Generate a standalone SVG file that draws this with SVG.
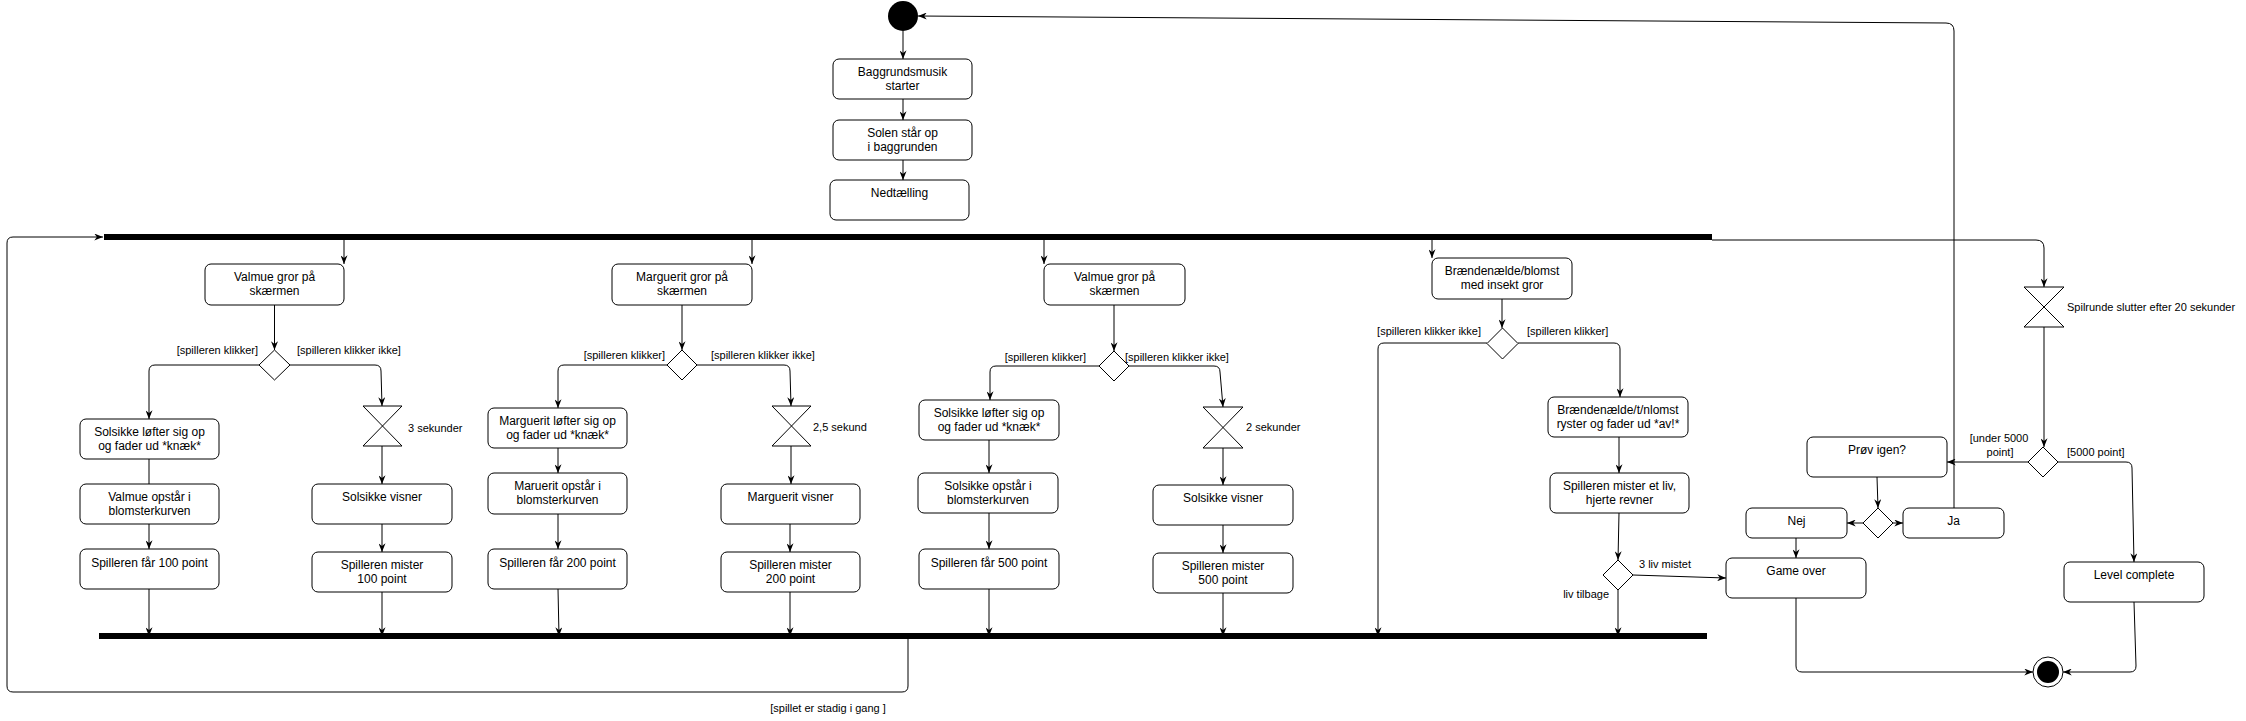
<svg xmlns="http://www.w3.org/2000/svg" width="2246" height="721" viewBox="0 0 2246 721">
<style>
  .n rect, .n path.shape { fill:#fff; stroke:#000; stroke-width:1; }
  text { font-family:"Liberation Sans", Arial, sans-serif; font-size:12px; fill:#000; text-anchor:middle; }
  .lbl { font-size:11px; }
  .s { text-anchor:start; }
  .en { text-anchor:end; }
  .e path { fill:none; stroke:#000; stroke-width:1; marker-end:url(#arr); }
  .e path.plain { marker-end:none; }
  .bar { fill:#000; }
</style>
<defs>
  <marker id="arr" viewBox="0 0 10 8" markerUnits="userSpaceOnUse" markerWidth="9" markerHeight="7" refX="10" refY="4" orient="auto">
    <path d="M0,0 L10,4 L0,8 L3,4 Z" fill="#000"/>
  </marker>
</defs>
<rect x="0" y="0" width="2246" height="721" fill="#fff"/>

<!-- connectors -->
<g id="connectors" class="e">
  <path d="M903,31 L903,59"/>
  <path d="M903,99 L903,120"/>
  <path d="M903,160 L903,180"/>
  <path d="M344,240 L344,264"/>
  <path d="M752,240 L752,264"/>
  <path d="M1044,240 L1044,264"/>
  <path d="M1432,240 L1432,258"/>
  <path d="M1712,240 L2036,240 Q2044,240 2044,248 L2044,287"/>
  <!-- col1 -->
  <path d="M274.5,305 L274.5,350"/>
  <path d="M259,365 L155,365 Q149,365 149,371 L149,419"/>
  <path d="M290,365 L375,365 Q381,365 381,371 L382,406"/>
  <path class="plain" d="M149,459 L149,484"/>
  <path d="M149,524 L149,549"/>
  <path d="M149,589 L149,636"/>
  <path d="M382,446 L382,484"/>
  <path d="M382,524 L382,552"/>
  <path d="M382,592 L382,636"/>
  <!-- col2 -->
  <path d="M682,305 L682,350"/>
  <path d="M667,365 L564,365 Q558,365 558,371 L558,408"/>
  <path d="M697,365 L784,365 Q790,365 790,371 L791,406"/>
  <path d="M558,448 L558,473"/>
  <path d="M558,514 L558,549"/>
  <path d="M558,589 L559,636"/>
  <path d="M791,446 L791,484"/>
  <path d="M790,524 L790,552"/>
  <path d="M790,592 L790,636"/>
  <!-- col3 -->
  <path d="M1114,305 L1114,351"/>
  <path d="M1099,366 L996,366 Q990,366 990,372 L990,400"/>
  <path d="M1129,366 L1214,366 Q1220,366 1220,372 L1223,407"/>
  <path d="M989,440 L989,473"/>
  <path d="M989,513 L989,549"/>
  <path d="M989,589 L989,636"/>
  <path d="M1223,448 L1223,485"/>
  <path d="M1223,525 L1223,553"/>
  <path d="M1223,593 L1223,636"/>
  <!-- col4 -->
  <path d="M1502,299 L1502,328"/>
  <path d="M1487,343 L1384,343 Q1378,343 1378,349 L1378,636"/>
  <path d="M1518,343 L1614,343 Q1620,343 1620,349 L1620,397"/>
  <path d="M1619,437 L1619,473"/>
  <path d="M1619,513 L1618,560"/>
  <path d="M1618,590 L1618,636"/>
  <path d="M1633,575 L1726,578"/>
  <!-- right side -->
  <path d="M2044,327 L2044,447"/>
  <path d="M2028,462 L1947,462"/>
  <path d="M2058,462 L2126,462 Q2132,462 2132,468 L2134,562"/>
  <path d="M1877,477 L1878,508"/>
  <path d="M1863,523 L1847,523"/>
  <path d="M1893,523 L1903,523"/>
  <path d="M1796,538 L1796,558"/>
  <path d="M1954,508 L1954,31 Q1954,23 1946,23 L918,16"/>
  <path d="M1796,598 L1796,666 Q1796,672 1802,672 L2033,672"/>
  <path d="M2134,602 L2136,666 Q2136,672 2130,672 L2063,672"/>
  <path d="M908,639 L908,686 Q908,692 902,692 L13,692 Q7,692 7,686 L7,243 Q7,237 13,237 L103,237"/>
</g>

<!-- edge labels -->
<g id="edge-labels">
  <text class="lbl en" x="258" y="354">[spilleren klikker]</text>
  <text class="lbl s" x="297" y="354">[spilleren klikker ikke]</text>
  <text class="lbl en" x="665" y="359">[spilleren klikker]</text>
  <text class="lbl s" x="711" y="359">[spilleren klikker ikke]</text>
  <text class="lbl en" x="1086" y="361">[spilleren klikker]</text>
  <text class="lbl s" x="1125" y="361">[spilleren klikker ikke]</text>
  <text class="lbl en" x="1481" y="335">[spilleren klikker ikke]</text>
  <text class="lbl s" x="1527" y="335">[spilleren klikker]</text>
  <text class="lbl s" x="1639" y="568">3 liv mistet</text>
  <text class="lbl en" x="1609" y="598">liv tilbage</text>
  <text class="lbl" x="1999" y="442">[under 5000</text>
  <text class="lbl" x="2000" y="456">point]</text>
  <text class="lbl s" x="2067" y="456">[5000 point]</text>
  <text class="lbl" x="828" y="712">[spillet er stadig i gang ]</text>
</g>

<!-- nodes -->
<g id="start"><circle cx="903" cy="16" r="15" fill="#000"/></g>
<g id="fork" class="bar"><rect x="104" y="234" width="1608" height="6"/></g>
<g id="join" class="bar"><rect x="99" y="633" width="1608" height="6"/></g>

<g id="n-baggrund" class="n"><rect x="833" y="59" width="139" height="40" rx="6"/><text x="902.5" y="76">Baggrundsmusik</text><text x="902.5" y="90">starter</text></g>
<g id="n-solen" class="n"><rect x="833" y="120" width="139" height="40" rx="6"/><text x="902.5" y="137">Solen står op</text><text x="902.5" y="151">i baggrunden</text></g>
<g id="n-nedtaelling" class="n"><rect x="830" y="180" width="139" height="40" rx="6"/><text x="899.5" y="197">Nedtælling</text></g>

<!-- column 1 -->
<g id="n-valmue1" class="n"><rect x="205" y="264" width="139" height="41" rx="6"/><text x="274.5" y="281">Valmue gror på</text><text x="274.5" y="295">skærmen</text></g>
<g id="d-col1" class="n"><path class="shape" d="M274.5,350 L290,365 L274.5,380 L259,365 Z"/></g>
<g id="n-solsikke-loefter1" class="n"><rect x="80" y="419" width="139" height="40" rx="6"/><text x="149.5" y="436">Solsikke løfter sig op</text><text x="149.5" y="450">og fader ud *knæk*</text></g>
<g id="n-valmue-opstaar" class="n"><rect x="80" y="484" width="139" height="40" rx="6"/><text x="149.5" y="501">Valmue opstår i</text><text x="149.5" y="515">blomsterkurven</text></g>
<g id="n-faar100" class="n"><rect x="80" y="549" width="139" height="40" rx="6"/><text x="149.5" y="567">Spilleren får 100 point</text></g>
<g id="t-col1" class="n"><path class="shape" d="M363,406 L402,406 L363,446 L402,446 Z"/><text class="lbl s" x="408" y="432">3 sekunder</text></g>
<g id="n-visner1" class="n"><rect x="312" y="484" width="140" height="40" rx="6"/><text x="382" y="501">Solsikke visner</text></g>
<g id="n-mister100" class="n"><rect x="312" y="552" width="140" height="40" rx="6"/><text x="382" y="569">Spilleren mister</text><text x="382" y="583">100 point</text></g>

<!-- column 2 -->
<g id="n-marguerit" class="n"><rect x="612" y="264" width="140" height="41" rx="6"/><text x="682" y="281">Marguerit gror på</text><text x="682" y="295">skærmen</text></g>
<g id="d-col2" class="n"><path class="shape" d="M682,350 L697,365 L682,380 L667,365 Z"/></g>
<g id="n-marguerit-loefter" class="n"><rect x="488" y="408" width="139" height="40" rx="6"/><text x="557.5" y="425">Marguerit løfter sig op</text><text x="557.5" y="439">og fader ud *knæk*</text></g>
<g id="n-maruerit-opstaar" class="n"><rect x="488" y="473" width="139" height="41" rx="6"/><text x="557.5" y="490">Maruerit opstår i</text><text x="557.5" y="504">blomsterkurven</text></g>
<g id="n-faar200" class="n"><rect x="488" y="549" width="139" height="40" rx="6"/><text x="557.5" y="567">Spilleren får 200 point</text></g>
<g id="t-col2" class="n"><path class="shape" d="M772,406 L811,406 L772,446 L811,446 Z"/><text class="lbl s" x="813" y="431">2,5 sekund</text></g>
<g id="n-marguerit-visner" class="n"><rect x="721" y="484" width="139" height="40" rx="6"/><text x="790.5" y="501">Marguerit visner</text></g>
<g id="n-mister200" class="n"><rect x="721" y="552" width="139" height="40" rx="6"/><text x="790.5" y="569">Spilleren mister</text><text x="790.5" y="583">200 point</text></g>

<!-- column 3 -->
<g id="n-valmue3" class="n"><rect x="1044" y="264" width="141" height="41" rx="6"/><text x="1114.5" y="281">Valmue gror på</text><text x="1114.5" y="295">skærmen</text></g>
<g id="d-col3" class="n"><path class="shape" d="M1114,351 L1129,366 L1114,381 L1099,366 Z"/></g>
<g id="n-solsikke-loefter3" class="n"><rect x="919" y="400" width="140" height="40" rx="6"/><text x="989" y="417">Solsikke løfter sig op</text><text x="989" y="431">og fader ud *knæk*</text></g>
<g id="n-solsikke-opstaar" class="n"><rect x="918" y="473" width="140" height="40" rx="6"/><text x="988" y="490">Solsikke opstår i</text><text x="988" y="504">blomsterkurven</text></g>
<g id="n-faar500" class="n"><rect x="919" y="549" width="140" height="40" rx="6"/><text x="989" y="567">Spilleren får 500 point</text></g>
<g id="t-col3" class="n"><path class="shape" d="M1203,407 L1243,407 L1203,448 L1243,448 Z"/><text class="lbl s" x="1246" y="431">2 sekunder</text></g>
<g id="n-visner3" class="n"><rect x="1153" y="485" width="140" height="40" rx="6"/><text x="1223" y="502">Solsikke visner</text></g>
<g id="n-mister500" class="n"><rect x="1153" y="553" width="140" height="40" rx="6"/><text x="1223" y="570">Spilleren mister</text><text x="1223" y="584">500 point</text></g>

<!-- column 4 -->
<g id="n-braendenaelde" class="n"><rect x="1432" y="258" width="140" height="41" rx="6"/><text x="1502" y="275">Brændenælde/blomst</text><text x="1502" y="289">med insekt gror</text></g>
<g id="d-col4" class="n"><path class="shape" d="M1502.5,328 L1518,343.5 L1502.5,359 L1487,343.5 Z"/></g>
<g id="n-ryster" class="n"><rect x="1548" y="397" width="140" height="40" rx="6"/><text x="1618" y="414">Brændenælde/t/nlomst</text><text x="1618" y="428">ryster og fader ud *av!*</text></g>
<g id="n-mister-liv" class="n"><rect x="1550" y="473" width="139" height="40" rx="6"/><text x="1619.5" y="490">Spilleren mister et liv,</text><text x="1619.5" y="504">hjerte revner</text></g>
<g id="d-liv" class="n"><path class="shape" d="M1618,560 L1633,575 L1618,590 L1603,575 Z"/></g>

<!-- right side -->
<g id="t-20" class="n"><path class="shape" d="M2024,287 L2064,287 L2024,327 L2064,327 Z"/><text class="lbl s" x="2067" y="311">Spilrunde slutter efter 20 sekunder</text></g>
<g id="d-point" class="n"><path class="shape" d="M2043,447 L2058,462 L2043,477 L2028,462 Z"/></g>
<g id="n-proev" class="n"><rect x="1807" y="437" width="140" height="40" rx="6"/><text x="1877" y="454">Prøv igen?</text></g>
<g id="d-proev" class="n"><path class="shape" d="M1878,508 L1893,523 L1878,538 L1863,523 Z"/></g>
<g id="n-nej" class="n"><rect x="1746" y="508" width="101" height="30" rx="6"/><text x="1796.5" y="525">Nej</text></g>
<g id="n-ja" class="n"><rect x="1903" y="508" width="101" height="30" rx="6"/><text x="1953.5" y="525">Ja</text></g>
<g id="n-gameover" class="n"><rect x="1726" y="558" width="140" height="40" rx="6"/><text x="1796" y="575">Game over</text></g>
<g id="n-level" class="n"><rect x="2064" y="562" width="140" height="40" rx="6"/><text x="2134" y="579">Level complete</text></g>
<g id="end"><circle cx="2048" cy="672" r="15" fill="#fff" stroke="#000" stroke-width="1"/><circle cx="2048" cy="672" r="11" fill="#000"/></g>
</svg>
